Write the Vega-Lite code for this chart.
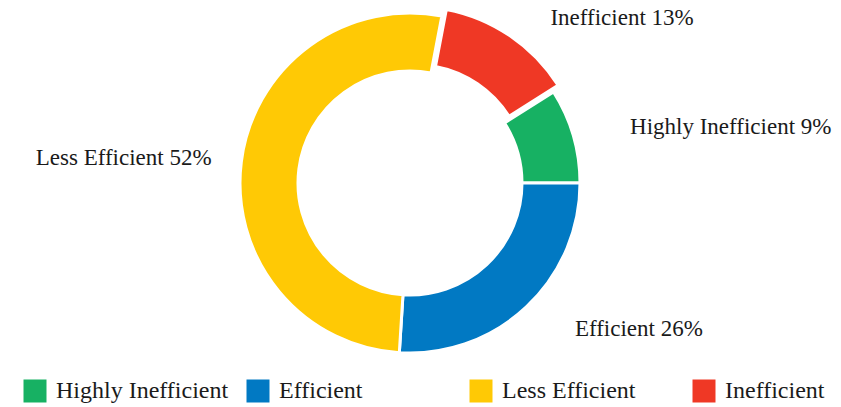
{
  "$schema": "https://vega.github.io/schema/vega-lite/v6.json",
  "width": 820,
  "height": 366,
  "autosize": {"type": "pad"},
  "padding": 0,
  "background": "white",
  "data": {
    "values": [
      {"category": "Highly Inefficient", "pct": 9, "rank": 1},
      {"category": "Efficient", "pct": 26, "rank": 2},
      {"category": "Less Efficient", "pct": 52, "rank": 3},
      {"category": "Inefficient", "pct": 13, "rank": 4}
    ]
  },
  "encoding": {
    "theta": {"field": "pct", "type": "quantitative", "stack": true, "scale": {"range": [1.00531, 7.2885]}},
    "order": {"field": "rank", "type": "quantitative"},
    "color": {
      "field": "category",
      "type": "nominal",
      "scale": {
        "domain": ["Highly Inefficient", "Efficient", "Less Efficient", "Inefficient"],
        "range": ["#17b163", "#0179c3", "#ffc905", "#ef3825"]
      },
      "legend": {
        "orient": "none",
        "legendX": 23,
        "legendY": 379,
        "direction": "horizontal",
        "columns": 4,
        "gridAlign": "all",
        "columnPadding": 17,
        "title": null,
        "symbolType": "square",
        "symbolSize": 529,
        "symbolStrokeWidth": 0,
        "labelFont": "Liberation Serif",
        "labelFontSize": 24,
        "labelColor": "#1a1a1a",
        "labelOffset": 9,
        "labelLimit": 300
      }
    }
  },
  "layer": [
    {
      "mark": {"type": "arc", "innerRadius": 112, "outerRadius": 170, "stroke": "white", "strokeWidth": 3},
      "encoding": {
        "opacity": {"condition": {"test": "datum.category === 'Inefficient'", "value": 0}, "value": 1}
      }
    },
    {
      "mark": {"type": "arc", "innerRadius": 112, "outerRadius": 170, "stroke": "white", "strokeWidth": 3, "xOffset": 4.5, "yOffset": -6.6},
      "encoding": {
        "opacity": {"condition": {"test": "datum.category === 'Inefficient'", "value": 1}, "value": 0}
      }
    },
    {
      "mark": {"type": "text", "radius": 200, "dx": 28, "align": "left", "baseline": "middle", "font": "Liberation Serif", "fontSize": 23, "fill": "#1a1a1a"},
      "encoding": {
        "text": {"field": "label"},
        "color": {"value": "#1a1a1a"},
        "opacity": {"condition": {"test": "datum.category === 'Less Efficient'", "value": 0}, "value": 1}
      },
      "transform": [{"calculate": "datum.category + ' ' + datum.pct + '%'", "as": "label"}]
    },
    {
      "mark": {"type": "text", "radius": 200, "align": "right", "baseline": "middle", "font": "Liberation Serif", "fontSize": 23, "fill": "#1a1a1a"},
      "encoding": {
        "text": {"field": "label"},
        "color": {"value": "#1a1a1a"},
        "opacity": {"condition": {"test": "datum.category === 'Less Efficient'", "value": 1}, "value": 0}
      },
      "transform": [{"calculate": "datum.category + ' ' + datum.pct + '%'", "as": "label"}]
    }
  ],
  "config": {"view": {"stroke": null}}
}
